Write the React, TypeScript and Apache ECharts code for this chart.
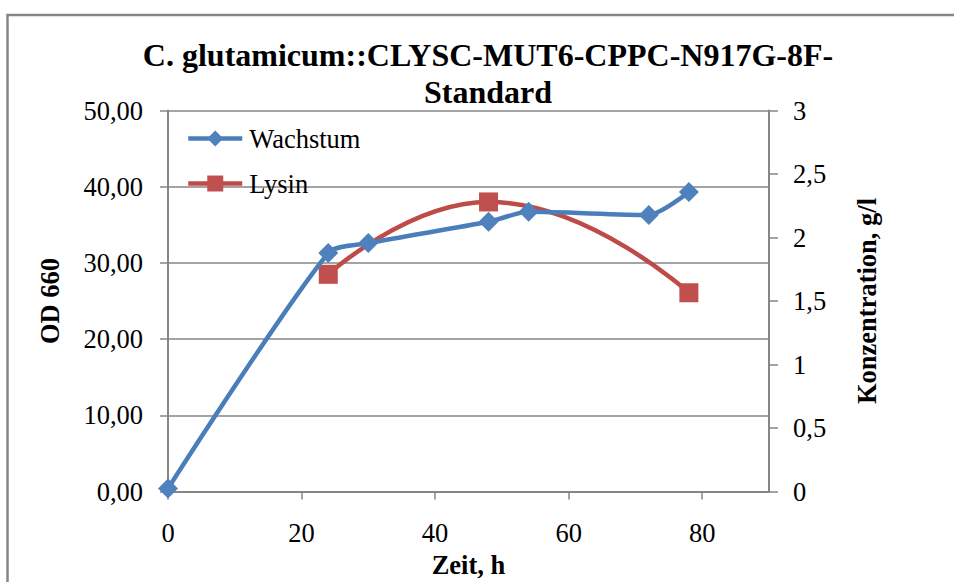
import React, { useEffect, useRef } from "react";
import * as echarts from "echarts";

const titleLines = ["C. glutamicum::CLYSC-MUT6-CPPC-N917G-8F-", "Standard"];
const hours = [0, 24, 30, 48, 54, 72, 78];
const wachstum = [0.4, 31.3, 32.6, 35.4, 36.7, 36.3, 39.3];
const lysinHours = [24, 48, 78];
const lysin = [1.71, 2.28, 1.565];
const xTicks = [0, 20, 40, 60, 80];

const FONT = "'Liberation Serif', 'Times New Roman', serif";
const GRAY = "#868686";
const FS = 26.5;

export default function App() {
  const ref = useRef<HTMLDivElement>(null);
  useEffect(() => {
    if (!ref.current) return;
    const chart = echarts.init(ref.current, undefined, { renderer: "svg" });
    chart.setOption({
      animation: false,
      backgroundColor: "#ffffff",
      textStyle: { fontFamily: FONT },
      graphic: [
        {
          type: "rect",
          shape: { x: 7.5, y: 15, width: 1200, height: 800 },
          style: { fill: "none", stroke: GRAY, lineWidth: 2.5 },
          silent: true,
        },
        ...titleLines.map((t, i) => ({
          type: "text",
          x: 488,
          y: 55 + i * 37,
          silent: true,
          style: {
            text: t,
            fill: "#000",
            fontFamily: "Liberation Serif",
            fontWeight: "bold",
            fontSize: 32,
            textAlign: "center",
            textVerticalAlign: "middle",
          },
        })),
      ],
      legend: {
        left: 186,
        top: 125,
        padding: 0,
        orient: "vertical",
        itemGap: 18,
        itemWidth: 54,
        itemHeight: 20,
        textStyle: { fontFamily: FONT, fontSize: FS, color: "#000", padding: [0, 0, 0, 2] },
        data: [
          { name: "Wachstum", itemStyle: { color: "#4F81BD" }, lineStyle: { color: "#4A7EBB", width: 4.5 } },
          { name: "Lysin", itemStyle: { color: "#C0504D" }, lineStyle: { color: "#BE4B48", width: 4.5 } },
        ],
      },
      grid: {
        left: 168,
        right: 185,
        top: 110.5,
        bottom: 90.5,
        containLabel: false,
        outerBoundsMode: "none",
      },
      xAxis: {
        type: "value",
        min: 0,
        max: 90,
        interval: 20,
        name: "Zeit, h",
        nameLocation: "middle",
        nameGap: 59,
        nameTextStyle: { fontFamily: FONT, fontWeight: "bold", fontSize: FS, color: "#000" },
        axisLine: { show: true, lineStyle: { color: GRAY, width: 2 } },
        axisTick: { show: true, length: 8, lineStyle: { color: GRAY, width: 1.5 }, customValues: xTicks },
        axisLabel: {
          customValues: xTicks,
          margin: 28,
          fontFamily: FONT,
          fontSize: FS,
          color: "#000",
        },
        splitLine: { show: false },
      },
      yAxis: [
        {
          type: "value",
          min: 0,
          max: 50,
          interval: 10,
          position: "left",
          name: "OD 660",
          nameLocation: "middle",
          nameRotate: 90,
          nameGap: 105,
          nameTextStyle: { fontFamily: FONT, fontWeight: "bold", fontSize: FS, color: "#000" },
          axisLine: { show: true, lineStyle: { color: GRAY, width: 2 } },
          axisTick: { show: true, length: 8, lineStyle: { color: GRAY, width: 1.5 } },
          axisLabel: {
            margin: 25,
            fontFamily: FONT,
            fontSize: FS,
            color: "#000",
            formatter: (v: number) => v.toFixed(2).replace(".", ","),
          },
          splitLine: { show: true, lineStyle: { color: GRAY, width: 1.5 } },
        },
        {
          type: "value",
          min: 0,
          max: 3,
          interval: 0.5,
          position: "right",
          name: "Konzentration, g/l",
          nameLocation: "middle",
          nameRotate: 90,
          nameGap: 84,
          nameTextStyle: { fontFamily: FONT, fontWeight: "bold", fontSize: FS, color: "#000" },
          axisLine: { show: true, lineStyle: { color: GRAY, width: 2 } },
          axisTick: { show: true, length: 9, lineStyle: { color: GRAY, width: 1.5 } },
          axisLabel: {
            margin: 24,
            fontFamily: FONT,
            fontSize: FS,
            color: "#000",
            formatter: (v: number) => String(v).replace(".", ","),
          },
          splitLine: { show: false },
        },
      ],
      series: [
        {
          name: "Wachstum",
          type: "line",
          yAxisIndex: 0,
          smooth: 0.25,
          data: hours.map((h, i) => [h, wachstum[i]]),
          symbol: "diamond",
          symbolSize: 20,
          lineStyle: { color: "#4A7EBB", width: 4.5 },
          itemStyle: { color: "#4F81BD" },
          z: 3,
        },
        {
          name: "Lysin",
          type: "line",
          yAxisIndex: 1,
          smooth: 0.5,
          data: lysinHours.map((h, i) => [h, lysin[i]]),
          symbol: "rect",
          symbolSize: 19,
          lineStyle: { color: "#BE4B48", width: 4.5 },
          itemStyle: { color: "#C0504D" },
          z: 2,
        },
      ],
    });
    return () => chart.dispose();
  }, []);
  return (
    <div
      ref={ref}
      style={{ position: "fixed", left: 0, top: 0, width: 954, height: 582, background: "#fff" }}
    />
  );
}
